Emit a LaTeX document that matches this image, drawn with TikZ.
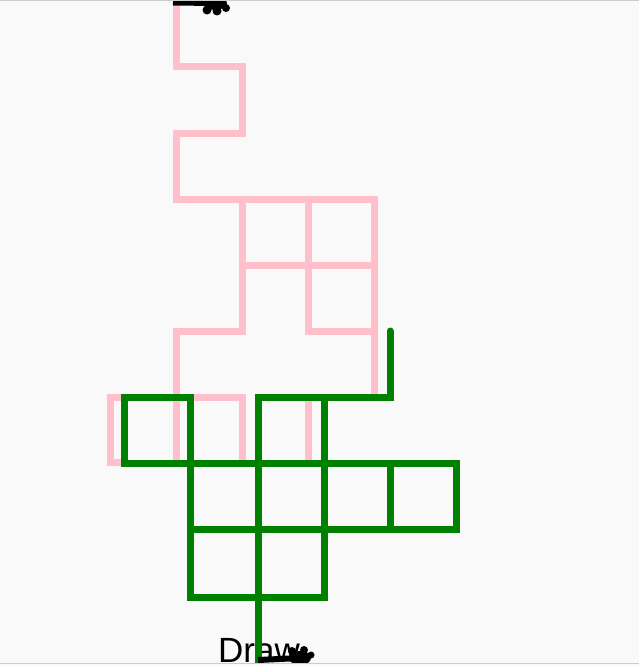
\documentclass[tikz,border=0pt]{standalone}
\usepackage{fontspec}
\setmainfont{Liberation Sans}
\definecolor{bgcol}{HTML}{F9F9F9}
\definecolor{pinkline}{HTML}{FFC0CB}
\definecolor{greenline}{HTML}{008000}
\definecolor{edgecol}{HTML}{CCCCCC}
\begin{document}
\begin{tikzpicture}[x=1pt,y=-1pt,
  pinkpath/.style={draw=pinkline,line width=7pt,line join=miter,line cap=butt},
  greenpath/.style={draw=greenline,line width=7pt,line join=miter,line cap=rect},
  penline/.style={draw=black,line width=6pt},
  turtlebody/.style={fill=black}]
\useasboundingbox (0,0) rectangle (639,666);
\fill[bgcol] (0,0) rectangle (639,666);
\begin{scope}
\clip (0,1.2) rectangle (639,662.6);
% pink trail
\draw[pinkpath] (176,-5) -- (176,67) -- (242,67) -- (242,133) -- (176,133) -- (176,199) -- (374,199) -- (374,397) -- (308,397) -- (308,461);
\draw[pinkpath] (242,199) -- (242,331) -- (176,331) -- (176,461);
\draw[pinkpath] (308,199) -- (308,331) -- (374,331);
\draw[pinkpath] (242,265) -- (374,265);
\draw[pinkpath] (242,461) -- (242,397) -- (110,397) -- (110,462) -- (126,462);
% top turtle
\coordinate (toppen) at (173,2.5);
\coordinate (topturtle) at (215,3);
\draw[penline] (toppen) -- (topturtle);
\fill[turtlebody] (topturtle) ellipse [x radius=12pt, y radius=7pt];
\fill[turtlebody] (207,10) circle [radius=4.5pt] (217,11) circle [radius=4.5pt] (226,8) circle [radius=4pt];
% label
\node[anchor=base west,inner sep=0pt,font=\fontsize{35}{35}\selectfont] (drawlabel) at (218,662) {Draw};
% green trail
\draw[greenpath,line cap=round] (390,331) -- (390,397) -- (258,397) -- (258,680);
\draw[greenpath] (190,397) -- (124,397) -- (124,463) -- (456,463) -- (456,529) -- (190,529);
\draw[greenpath] (190,397) -- (190,597) -- (324,597) -- (324,397);
\draw[greenpath] (390,463) -- (390,529);
% bottom turtle
\coordinate (botpen) at (258,660);
\coordinate (botturtle) at (300,658);
\draw[penline] (botpen) -- (botturtle);
\fill[turtlebody] (botturtle) ellipse [x radius=11pt, y radius=7pt];
\fill[turtlebody] (292,651) circle [radius=4pt] (304,650) circle [radius=4pt] (311,655) circle [radius=3.5pt];
\end{scope}
\draw[edgecol,line width=1.2pt] (0,0.6) -- (639,0.6);
\draw[edgecol,line width=1.2pt] (0,663.3) -- (639,663.3);
\end{tikzpicture}
\end{document}
